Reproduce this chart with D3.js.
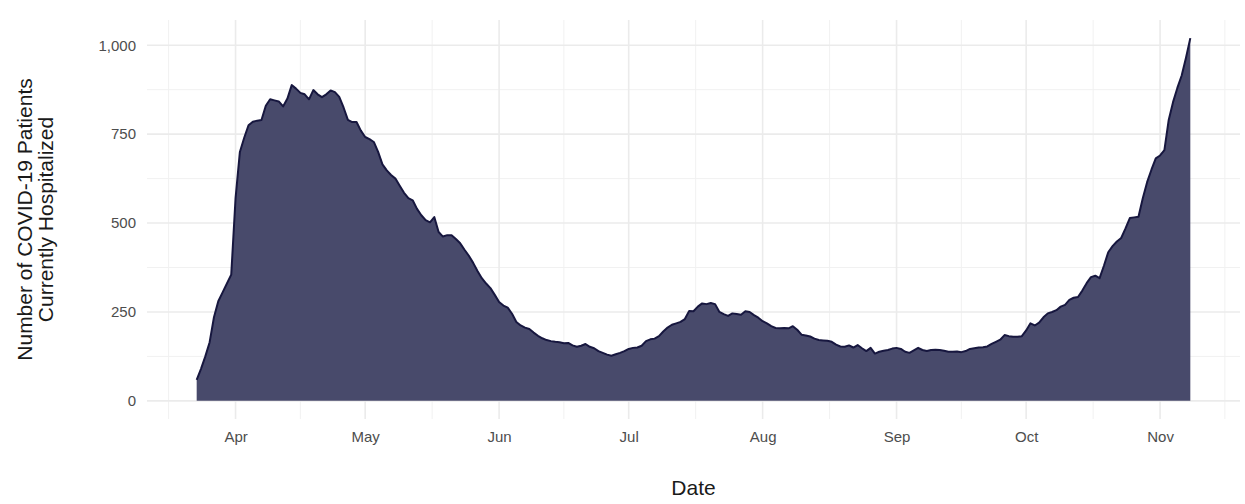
<!DOCTYPE html>
<html>
<head>
<meta charset="utf-8">
<script src="https://cdn.jsdelivr.net/npm/d3@7"></script>
<style>
  body { margin: 0; background: #fff; }
  svg { display: block; font-family: "Liberation Sans", Arial, sans-serif; }
</style>
</head>
<body>
<div class="chart"></div>
<script>
// first day of the series, one value per day after that
var startDate = "2020-03-23";

// patients currently hospitalized, Mar 23 -> Nov 8 2020
var patients = [
  59, 90, 125, 165, 235, 280, 305, 330, 355,
  570, 700, 740, 775, 785, 788, 790, 830, 848, 845, 842, 828, 850, 888, 878, 866,
  862, 848, 874, 862, 854, 862, 873, 868, 855, 825, 790, 784, 784, 760,
  742, 736, 728, 700, 665, 648, 635, 625, 605, 585, 570, 564, 540, 522, 508, 502,
  517, 475, 462, 466, 466, 455, 443, 425, 408, 388, 365, 345, 330, 317, 298,
  278, 268, 262, 245, 222, 212, 206, 202, 192, 183, 176, 171, 168, 166, 165,
  162, 163, 156, 152, 155, 160, 152, 148, 140, 135, 130, 127, 131, 135, 140,
  146, 149, 150, 155, 168, 173, 175, 182, 195, 206, 214, 218, 222, 230, 253,
  252, 265, 274, 272, 275, 272, 250, 244, 239, 246, 244, 242, 252, 250, 241, 234,
  224, 218, 210, 205, 204, 205, 204, 210, 200, 186, 184, 181, 175, 171, 170,
  169, 166, 158, 153, 152, 156, 150, 157, 148, 140, 149, 133, 138, 141, 143, 147,
  149, 146, 138, 135, 142, 149, 143, 140, 143, 144, 143, 141, 138, 138, 139,
  137, 140, 146, 148, 150, 151, 153, 160, 166, 172, 185, 182, 180, 180, 182,
  198, 218, 212, 220, 235, 246, 250, 255, 265, 270, 284, 290, 292, 310, 331,
  348, 352, 345, 380, 418, 435, 448, 458, 485, 514, 516, 518, 570, 615, 650, 682,
  690, 705, 790, 840, 880, 915, 965, 1020
];

// axis ticks
var monthTicks = ["2020-04-01", "2020-05-01", "2020-06-01", "2020-07-01",
                  "2020-08-01", "2020-09-01", "2020-10-01", "2020-11-01"];
var monthLabels = ["Apr", "May", "Jun", "Jul", "Aug", "Sep", "Oct", "Nov"];
var yTicks = [0, 250, 500, 750, 1000];
var yMinorTicks = [125, 375, 625, 875];

var svgWidth = 1245;
var svgHeight = 504;

// plot panel edges
var panel = { left: 147, right: 1240, top: 20, bottom: 419 };

var svg = d3.select(".chart")
  .append("svg")
  .attr("width", svgWidth)
  .attr("height", svgHeight);

var parse = d3.utcParse("%Y-%m-%d");
var start = parse(startDate);

var data = patients.map(function(v, i) {
  return { date: d3.utcDay.offset(start, i), value: v };
});

// ggplot style 5% padding on both scales
var dateExtent = d3.extent(data, d => d.date);
var pad = (dateExtent[1] - dateExtent[0]) * 0.05;
var xScale = d3.scaleUtc()
  .domain([new Date(+dateExtent[0] - pad), new Date(+dateExtent[1] + pad)])
  .range([panel.left, panel.right]);

var yMax = d3.max(data, d => d.value);
var yScale = d3.scaleLinear()
  .domain([-yMax * 0.05, yMax * 1.05])
  .range([panel.bottom, panel.top]);

// minor x breaks halfway between month starts
var monthDates = d3.utcMonth.range(parse("2020-03-01"), parse("2020-12-02"));
var xMinor = [];
for (var i = 0; i < monthDates.length - 1; i++) {
  var mid = new Date((+monthDates[i] + +monthDates[i + 1]) / 2);
  if (mid > xScale.domain()[0] && mid < xScale.domain()[1]) xMinor.push(mid);
}

var grid = svg.append("g").attr("class", "grid");

grid.selectAll(".ymin")
  .data(yMinorTicks)
  .enter()
  .append("line")
  .attr("x1", panel.left).attr("x2", panel.right)
  .attr("y1", d => yScale(d)).attr("y2", d => yScale(d))
  .attr("stroke", "#f1f1f1")
  .attr("stroke-width", 1);

grid.selectAll(".xmin")
  .data(xMinor)
  .enter()
  .append("line")
  .attr("x1", d => xScale(d)).attr("x2", d => xScale(d))
  .attr("y1", panel.top).attr("y2", panel.bottom)
  .attr("stroke", "#f1f1f1")
  .attr("stroke-width", 1);

grid.selectAll(".ymaj")
  .data(yTicks)
  .enter()
  .append("line")
  .attr("x1", panel.left).attr("x2", panel.right)
  .attr("y1", d => yScale(d)).attr("y2", d => yScale(d))
  .attr("stroke", "#ebebeb")
  .attr("stroke-width", 1.6);

grid.selectAll(".xmaj")
  .data(monthTicks.map(parse))
  .enter()
  .append("line")
  .attr("x1", d => xScale(d)).attr("x2", d => xScale(d))
  .attr("y1", panel.top).attr("y2", panel.bottom)
  .attr("stroke", "#ebebeb")
  .attr("stroke-width", 1.6);

// the area itself
var area = d3.area()
  .x(d => xScale(d.date))
  .y0(yScale(0))
  .y1(d => yScale(d.value));

var line = d3.line()
  .x(d => xScale(d.date))
  .y(d => yScale(d.value));

svg.append("path")
  .datum(data)
  .attr("d", area)
  .attr("fill", "#484a6b");

svg.append("path")
  .datum(data)
  .attr("d", line)
  .attr("fill", "none")
  .attr("stroke", "#17173f")
  .attr("stroke-width", 2)
  .attr("stroke-linejoin", "round");

// axes, no domain line or ticks (theme_minimal)
var xAxis = d3.axisBottom(xScale)
  .tickValues(monthTicks.map(parse))
  .tickFormat((d, i) => monthLabels[i])
  .tickSize(0)
  .tickPadding(12);

var yAxis = d3.axisLeft(yScale)
  .tickValues(yTicks)
  .tickFormat(d3.format(","))
  .tickSize(0)
  .tickPadding(11);

svg.append("g")
  .attr("transform", `translate(0, ${panel.bottom})`)
  .call(xAxis)
  .call(g => g.select(".domain").remove())
  .selectAll("text")
  .attr("fill", "#4d4d4d")
  .style("font-size", "15px")
  .style("font-family", "Liberation Sans, Arial, sans-serif");

svg.append("g")
  .attr("transform", `translate(${panel.left}, 0)`)
  .call(yAxis)
  .call(g => g.select(".domain").remove())
  .selectAll("text")
  .attr("fill", "#4d4d4d")
  .style("font-size", "15px")
  .style("font-family", "Liberation Sans, Arial, sans-serif");

// axis titles
svg.append("text")
  .attr("x", (panel.left + panel.right) / 2)
  .attr("y", 495)
  .attr("text-anchor", "middle")
  .attr("fill", "#1a1a1a")
  .style("font-size", "21px")
  .text("Date");

var yTitle = svg.append("text")
  .attr("transform", `translate(32, ${(panel.top + panel.bottom) / 2}) rotate(-90)`)
  .attr("text-anchor", "middle")
  .attr("fill", "#1a1a1a")
  .style("font-size", "21px");

yTitle.append("tspan").attr("x", 0).attr("dy", 0).text("Number of COVID-19 Patients");
yTitle.append("tspan").attr("x", 0).attr("dy", 21).text("Currently Hospitalized");
</script>
</body>
</html>
